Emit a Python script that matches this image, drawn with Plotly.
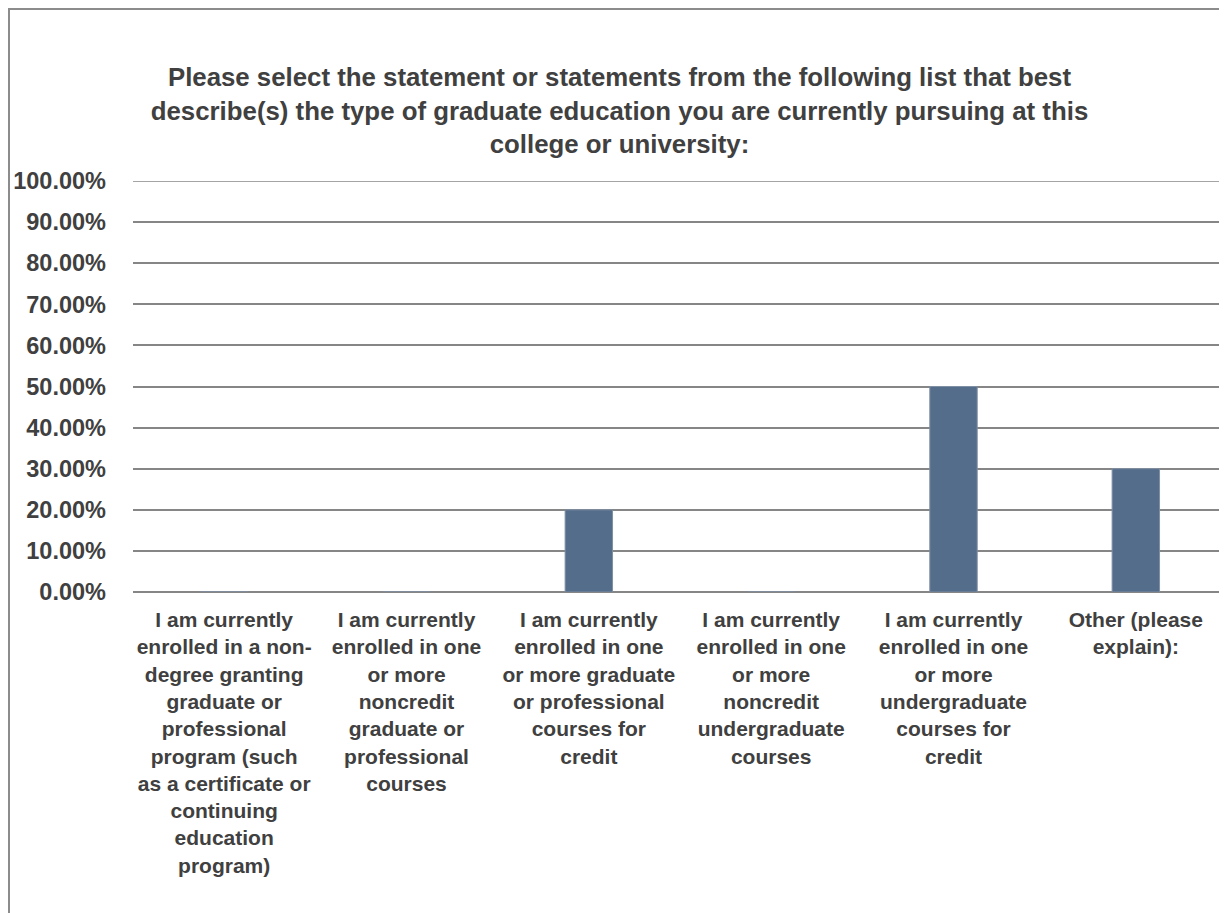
import plotly.graph_objects as go

# answer options (wrapped the way the source chart wraps them)
categories = [
    "I am currently<br>enrolled in a non-<br>degree granting<br>graduate or<br>professional<br>program (such<br>as a certificate or<br>continuing<br>education<br>program)",
    "I am currently<br>enrolled in one<br>or more<br>noncredit<br>graduate or<br>professional<br>courses",
    "I am currently<br>enrolled in one<br>or more graduate<br>or professional<br>courses for<br>credit",
    "I am currently<br>enrolled in one<br>or more<br>noncredit<br>undergraduate<br>courses",
    "I am currently<br>enrolled in one<br>or more<br>undergraduate<br>courses for<br>credit",
    "Other (please<br>explain):",
]
shares = [0.0, 0.0, 0.20, 0.0, 0.50, 0.30]
y_ticks = [0, 0.1, 0.2, 0.3, 0.4, 0.5, 0.6, 0.7, 0.8, 0.9, 1.0]

title_text = ("Please select the statement or statements from the following list that best<br>"
              "describe(s) the type of graduate education you are currently pursuing at this<br>"
              "college or university:")

txt = "#404040"
grid = "#868686"
font_family = "Liberation Sans, Arial, sans-serif"

# page body has an 8px margin, so the figure is sized to fill the window from there
W, H = 1219, 905
L, T, B = 125, 173, 321
plot_w = W - L
plot_h = H - T - B

fig = go.Figure(go.Bar(
    x=categories,
    y=shares,
    marker=dict(color="#546d8a", line=dict(color="#7f8fa3", width=1)),
    width=0.26,
))

fig.update_layout(
    width=W,
    height=H,
    margin=dict(l=L, r=0, t=T, b=B),
    plot_bgcolor="white",
    paper_bgcolor="white",
    showlegend=False,
    font=dict(family=font_family, color=txt),
    title=dict(
        text="<b>" + title_text + "</b>",
        x=0.5 + 2 / W, xref="container", xanchor="center",
        y=1 - 78 / H, yref="container", yanchor="top",
        font=dict(size=25.8, color=txt, family=font_family),
    ),
    xaxis=dict(
        showgrid=False,
        showline=False,
        ticks="",
        tickfont=dict(size=21, color=txt, family=font_family, weight="bold"),
        tickangle=0,
        ticklabelstandoff=13,
    ),
    yaxis=dict(
        range=[0, 1],
        tickvals=y_ticks,
        tickformat=".2%",
        showgrid=True,
        gridcolor=grid,
        gridwidth=1.5,
        zeroline=True,
        zerolinecolor=grid,
        zerolinewidth=1.5,
        ticks="",
        tickfont=dict(size=23.5, color=txt, family=font_family, weight="bold"),
        ticklabelstandoff=26,
    ),
    shapes=[
        dict(
            type="rect", xref="paper", yref="paper",
            x0=(1 - L) / plot_w, x1=1.02,
            y0=-1.0, y1=(H - B - 1) / plot_h,
            line=dict(color="#8c8c8c", width=2),
            fillcolor="rgba(0,0,0,0)",
            layer="below",
        ),
        # top gridline (plotly drops the grid line sitting on the range edge)
        dict(
            type="line", xref="paper", yref="y",
            x0=0, x1=1, y0=y_ticks[-1], y1=y_ticks[-1],
            line=dict(color=grid, width=1.5),
        ),
    ],
)

fig.write_html("out.html")
